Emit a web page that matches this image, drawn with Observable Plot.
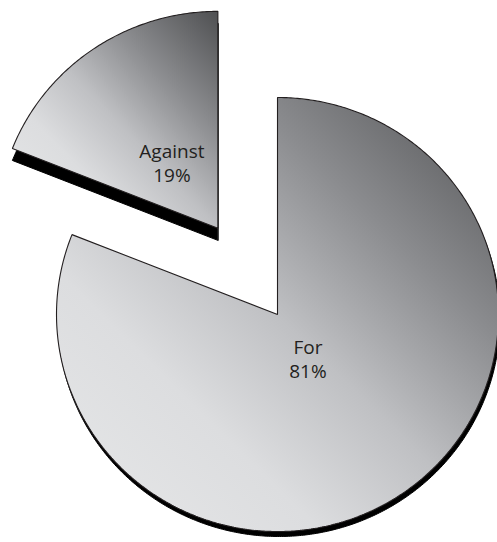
<!DOCTYPE html>
<html>
<head>
<meta charset="utf-8">
<script src="https://cdn.jsdelivr.net/npm/d3@7"></script>
<script src="https://cdn.jsdelivr.net/npm/@observablehq/plot@0.6"></script>
<style>
  html, body { margin: 0; padding: 0; background: #ffffff; }
  #chart { width: 497px; height: 542px; }
</style>
</head>
<body>
<div id="chart"></div>
<script>
// ---- data ----
const categories = ["For", "Against"];
const values = [81, 19];
const valueLabels = ["81%", "19%"];

// ---- layout (not data) ----
const W = 497, H = 542;
const cx = 277, cy = 314;      // pixel position of pie centre
const rx = 221, ry = 217;      // pixel radii
const explode = {For: 0, Against: 0.48};
const labelRadius = {For: 0.245, Against: 0.37};

const pie = d3.pie().sort(null).value(d => d.value)(
  categories.map((c, i) => ({category: c, value: values[i], label: c + "\n" + valueLabels[i]}))
);

const polyPts = [];
const labelPts = [];
for (const s of pie) {
  const cat = s.data.category;
  const mid = (s.startAngle + s.endAngle) / 2;
  const ox = explode[cat] * Math.sin(mid);
  const oy = explode[cat] * Math.cos(mid);
  polyPts.push({slice: cat, x: ox, y: oy});
  const n = Math.max(8, Math.ceil((s.endAngle - s.startAngle) / 0.01));
  for (let k = 0; k <= n; k++) {
    const a = s.startAngle + (s.endAngle - s.startAngle) * k / n;
    polyPts.push({slice: cat, x: ox + Math.sin(a), y: oy + Math.cos(a)});
  }
  labelPts.push({
    slice: cat,
    text: s.data.label,
    x: ox + labelRadius[cat] * Math.sin(mid),
    y: oy + labelRadius[cat] * Math.cos(mid)
  });
}

const ns = "http://www.w3.org/2000/svg";
function gradientDefs() {
  const defs = document.createElementNS(ns, "defs");
  const g = document.createElementNS(ns, "linearGradient");
  g.setAttribute("id", "pieGrad");
  g.setAttribute("x1", "0"); g.setAttribute("y1", "1");
  g.setAttribute("x2", "1"); g.setAttribute("y2", "0");
  [[0, "#e7e8e9"], [0.3, "#dcdddf"], [0.5, "#bfc0c3"], [0.72, "#8b8c8f"], [1, "#4f5052"]]
    .forEach(([o, c]) => {
      const st = document.createElementNS(ns, "stop");
      st.setAttribute("offset", o);
      st.setAttribute("stop-color", c);
      g.appendChild(st);
    });
  defs.appendChild(g);
  return defs;
}

const chart = Plot.plot({
  width: W,
  height: H,
  margin: 0,
  style: {background: "#ffffff"},
  x: {domain: [-cx / rx, (W - cx) / rx], range: [0, W], axis: null},
  y: {domain: [-(H - cy) / ry, cy / ry], range: [H, 0], axis: null},
  marks: [
    gradientDefs,
    // shadows
    Plot.line(polyPts.filter(d => d.slice === "For"), {
      x: "x", y: "y", z: "slice", curve: "linear-closed",
      fill: "#000000", stroke: "#000000", strokeWidth: 1, dx: 1.5, dy: 5
    }),
    Plot.line(polyPts.filter(d => d.slice === "Against"), {
      x: "x", y: "y", z: "slice", curve: "linear-closed",
      fill: "#000000", stroke: "#000000", strokeWidth: 1, dx: 0, dy: 12
    }),
    // slices
    Plot.line(polyPts, {
      x: "x", y: "y", z: "slice", curve: "linear-closed",
      fill: "url(#pieGrad)", stroke: "#231f20", strokeWidth: 1.1, strokeLinejoin: "miter"
    }),
    Plot.text(labelPts, {
      x: "x", y: "y", text: "text",
      fontSize: 19, lineHeight: 1.26,
      fontFamily: "'Open Sans', sans-serif",
      fill: "#231f20"
    })
  ]
});
document.getElementById("chart").appendChild(chart);
</script>
</body>
</html>
